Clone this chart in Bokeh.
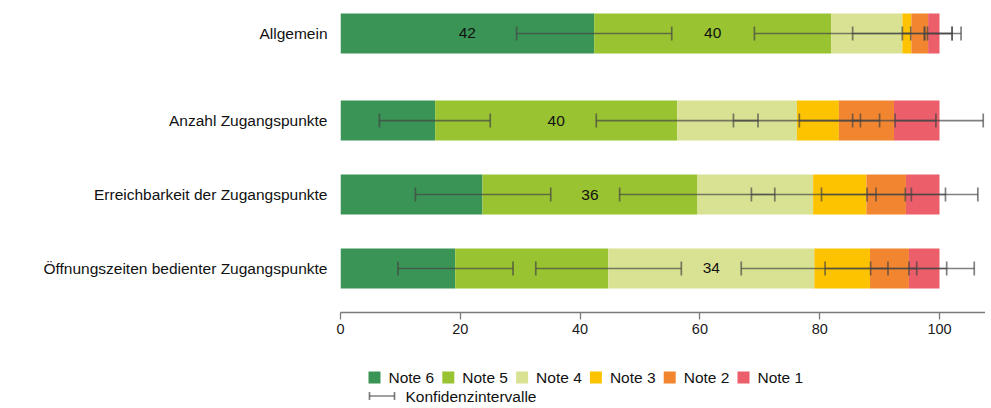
from bokeh.plotting import figure
from bokeh.models import ColumnDataSource, Range1d, FixedTicker, Whisker, TeeHead
from bokeh.layouts import column
from bokeh.core.properties import value
from bokeh.embed import file_html
from bokeh.resources import INLINE

# ---------------- data ----------------
categories = ["Allgemein", "Anzahl Zugangspunkte",
              "Erreichbarkeit der Zugangspunkte",
              "Öffnungszeiten bedienter Zugangspunkte"]
notes = ["Note 6", "Note 5", "Note 4", "Note 3", "Note 2", "Note 1"]
colors = ["#3a9456", "#9ac332", "#d9e293", "#fdc300", "#f28630", "#ec5e6a"]

note6 = [42.35, 15.8, 23.7, 19.15]
note5 = [39.55, 40.4, 35.9, 25.55]
note4 = [11.9, 20.0, 19.3, 34.4]
note3 = [1.5, 7.0, 8.9, 9.3]
note2 = [2.8, 9.2, 6.6, 6.5]
note1 = [1.9, 7.6, 5.6, 5.1]

# confidence intervals (on the cumulative scale), per note
note6_ci_low = [29.4, 6.5, 12.5, 9.6]
note6_ci_high = [55.3, 25.0, 35.1, 28.8]
note5_ci_low = [69.1, 42.7, 46.6, 32.6]
note5_ci_high = [95.2, 69.7, 72.5, 56.9]
note4_ci_low = [85.5, 65.6, 68.6, 66.9]
note4_ci_high = [102.1, 86.8, 89.4, 91.4]
note3_ci_low = [93.8, 76.6, 80.3, 80.9]
note3_ci_high = [97.5, 90.0, 95.3, 96.2]
note2_ci_low = [98.0, 85.5, 87.9, 88.5]
note2_ci_high = [103.6, 99.4, 101.0, 101.2]
note1_ci_low = [97.5, 92.6, 94.3, 94.9]
note1_ci_high = [102.1, 107.3, 106.4, 105.8]

x_ticks = [0, 20, 40, 60, 80, 100]

# ---------------- layout constants ----------------
row_pos = [54, 34, 17, 0]          # vertical row positions (extra gap after first row)
bar_h = 9.19
FONT = "Liberation Sans"
LEFT = 340
WIDTH = 985
CI_COLOR = "#444444"
CI_ALPHA = 0.68
CI_WIDTH = 1.7

series = [note6, note5, note4, note3, note2, note1]
ci_lows = [note6_ci_low, note5_ci_low, note4_ci_low, note3_ci_low, note2_ci_low, note1_ci_low]
ci_highs = [note6_ci_high, note5_ci_high, note4_ci_high, note3_ci_high, note2_ci_high, note1_ci_high]

cols = ["n6", "n5", "n4", "n3", "n2", "n1"]
data = {"y": row_pos}
for c, s in zip(cols, series):
    data[c] = s
src = ColumnDataSource(data)

p = figure(width=WIDTH, height=342, output_backend="svg", toolbar_location=None,
           x_range=Range1d(0, (WIDTH - LEFT) / 5.99), y_range=Range1d(-10.11, 59.74),
           min_border_left=LEFT, min_border_right=0, min_border_top=8,
           min_border_bottom=30)
p.outline_line_color = None
p.grid.visible = False
p.background_fill_color = "white"

p.hbar_stack(cols, y="y", height=bar_h, color=colors, line_color=None, source=src)

# confidence interval whiskers
for lo, hi in zip(ci_lows, ci_highs):
    wsrc = ColumnDataSource(dict(base=row_pos, lower=lo, upper=hi))
    head_kw = dict(size=14, line_color=CI_COLOR, line_alpha=CI_ALPHA, line_width=CI_WIDTH)
    w = Whisker(base="base", lower="lower", upper="upper", dimension="width",
                source=wsrc, line_color=CI_COLOR, line_alpha=CI_ALPHA, line_width=CI_WIDTH,
                lower_head=TeeHead(**head_kw), upper_head=TeeHead(**head_kw),
                level="annotation")
    p.add_layout(w)

# value labels for large segments
lx, ly, lt = [], [], []
for i in range(len(categories)):
    cum = 0.0
    for s in series:
        v = s[i]
        if v >= 30:
            lx.append(cum + v / 2.0)
            ly.append(row_pos[i])
            lt.append(str(int(round(v))))
        cum += v
p.text(x=lx, y=ly, text=lt, text_align="center", text_baseline="middle",
       text_font=value(FONT), text_font_size=value("15.5px"), text_color="#111111")

# axes
p.xaxis.ticker = FixedTicker(ticks=x_ticks)
p.xaxis.axis_line_color = "#7a7a7a"
p.xaxis.axis_line_width = 1.3
p.xaxis.major_tick_line_color = "#7a7a7a"
p.xaxis.major_tick_line_width = 1.3
p.xaxis.major_tick_out = 7
p.xaxis.major_tick_in = 0
p.xaxis.minor_tick_line_color = None
p.xaxis.major_label_standoff = 4
p.xaxis.major_label_text_font = FONT
p.xaxis.major_label_text_font_size = "14.5px"
p.xaxis.major_label_text_color = "#1a1a1a"

p.yaxis.ticker = FixedTicker(ticks=row_pos)
p.yaxis.major_label_overrides = {pos: cat for pos, cat in zip(row_pos, categories)}
p.yaxis.axis_line_color = None
p.yaxis.major_tick_line_color = None
p.yaxis.minor_tick_line_color = None
p.yaxis.major_tick_out = 0
p.yaxis.major_tick_in = 0
p.yaxis.major_label_standoff = 13
p.yaxis.major_label_text_font = FONT
p.yaxis.major_label_text_font_size = "15.5px"
p.yaxis.major_label_text_color = "#111111"

# ---------------- legend (drawn in its own strip, 1 unit = 1 px) ----------------
leg_h = 64
lg = figure(width=WIDTH, height=leg_h, output_backend="svg", toolbar_location=None,
            x_range=Range1d(LEFT, WIDTH), y_range=Range1d(0, leg_h),
            min_border_left=LEFT, min_border_right=0, min_border_top=0, min_border_bottom=0)
lg.axis.visible = False
lg.grid.visible = False
lg.outline_line_color = None

item_step = 73.8
row1_y = 29
row2_y = 10.5
sq_x = [374 + i * item_step for i in range(len(notes))]
lg.rect(x=sq_x, y=[row1_y] * len(notes), width=12, height=12,
        fill_color=colors, line_color=None)
lg.text(x=[x + 14 for x in sq_x], y=[row1_y] * len(notes), text=notes,
        text_align="left", text_baseline="middle",
        text_font=value(FONT), text_font_size=value("15.5px"), text_color="#111111")

# confidence interval symbol
lg.segment(x0=[369], y0=[row2_y], x1=[394], y1=[row2_y],
           line_color=CI_COLOR, line_alpha=CI_ALPHA, line_width=CI_WIDTH)
lg.segment(x0=[369, 394], y0=[row2_y - 4, row2_y - 4], x1=[369, 394], y1=[row2_y + 4, row2_y + 4],
           line_color=CI_COLOR, line_alpha=CI_ALPHA, line_width=CI_WIDTH)
lg.text(x=[405], y=[row2_y], text=["Konfidenzintervalle"],
        text_align="left", text_baseline="middle",
        text_font=value(FONT), text_font_size=value("15.5px"), text_color="#111111")

layout = column(p, lg, spacing=0)
open("out.html", "w").write(file_html(layout, INLINE))
